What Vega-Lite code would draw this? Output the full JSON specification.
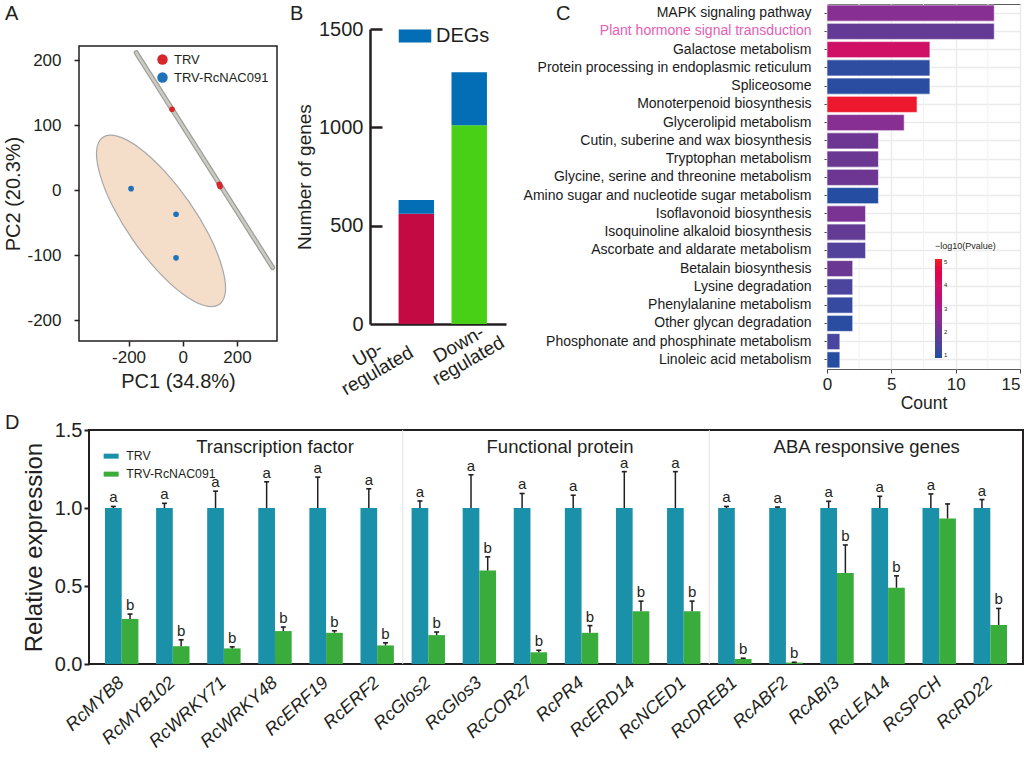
{
  "$schema": "https://vega.github.io/schema/vega-lite/v6.json",
  "background": "white",
  "padding": {"left": 3, "top": 3, "right": 0, "bottom": 0},
  "config": {
    "font": "Liberation Sans",
    "view": {"stroke": null},
    "axis": {"labelFont": "Liberation Sans", "titleFont": "Liberation Sans", "labelColor": "#231f20", "titleColor": "#231f20", "titleFontWeight": "normal", "grid": false, "domainColor": "#231f20", "tickColor": "#231f20"},
    "legend": {"labelFont": "Liberation Sans", "titleFont": "Liberation Sans", "labelColor": "#231f20", "titleColor": "#231f20"},
    "title": {"font": "Liberation Sans", "fontWeight": "normal", "fontSize": 20, "color": "#231f20", "anchor": "start", "frame": "group"},
    "text": {"font": "Liberation Sans"}
  },
  "datasets": {
    "pca": [
      {"pc1": -39.5, "pc2": 124.6, "group": "TRV"},
      {"pc1": 135, "pc2": 9.2, "group": "TRV"},
      {"pc1": 138, "pc2": 5.8, "group": "TRV"},
      {"pc1": -190.8, "pc2": 2.5, "group": "TRV-RcNAC091"},
      {"pc1": -24.7, "pc2": -36.9, "group": "TRV-RcNAC091"},
      {"pc1": -24.7, "pc2": -104, "group": "TRV-RcNAC091"}
    ],
    "ellipse": [
      {"i": 0, "pc1": 134.7, "pc2": -175.8},
      {"i": 1, "pc1": 157.9, "pc2": -154.6},
      {"i": 2, "pc1": 144.3, "pc2": -117.1},
      {"i": 3, "pc1": 97.4, "pc2": -68.9},
      {"i": 4, "pc1": 22.9, "pc2": -17.4},
      {"i": 5, "pc1": -67.2, "pc2": 29.5},
      {"i": 6, "pc1": -159.0, "pc2": 64.8},
      {"i": 7, "pc1": -239.1, "pc2": 82.9},
      {"i": 8, "pc1": -294.8, "pc2": 81.4},
      {"i": 9, "pc1": -318.1, "pc2": 60.2},
      {"i": 10, "pc1": -304.4, "pc2": 22.6},
      {"i": 11, "pc1": -257.6, "pc2": -25.5},
      {"i": 12, "pc1": -183.0, "pc2": -77.1},
      {"i": 13, "pc1": -93.0, "pc2": -124.0},
      {"i": 14, "pc1": -1.1, "pc2": -159.2},
      {"i": 15, "pc1": 79.0, "pc2": -177.4}
    ],
    "trvline": [
      {"i": 0, "pc1": -172, "pc2": 211.7},
      {"i": 1, "pc1": 332, "pc2": -119}
    ],
    "degs": [
      {"cat": "Up- regulated", "seg": "Up-regulated", "count": 560, "ord": 1},
      {"cat": "Up- regulated", "seg": "DEGs", "count": 70, "ord": 2},
      {"cat": "Down- regulated", "seg": "Down-regulated", "count": 1010, "ord": 1},
      {"cat": "Down- regulated", "seg": "DEGs", "count": 270, "ord": 2}
    ],
    "kegg": [
      {"term": "MAPK signaling pathway", "count": 13, "p": 2.45},
      {"term": "Plant hormone signal transduction", "count": 13, "p": 1.85},
      {"term": "Galactose metabolism", "count": 8, "p": 3.9},
      {"term": "Protein processing in endoplasmic reticulum", "count": 8, "p": 1.0},
      {"term": "Spliceosome", "count": 8, "p": 0.95},
      {"term": "Monoterpenoid biosynthesis", "count": 7, "p": 5.0},
      {"term": "Glycerolipid metabolism", "count": 6, "p": 2.45},
      {"term": "Cutin, suberine and wax biosynthesis", "count": 4, "p": 2.05},
      {"term": "Tryptophan metabolism", "count": 4, "p": 2.0},
      {"term": "Glycine, serine and threonine metabolism", "count": 4, "p": 2.05},
      {"term": "Amino sugar and nucleotide sugar metabolism", "count": 4, "p": 0.9},
      {"term": "Isoflavonoid biosynthesis", "count": 3, "p": 2.25},
      {"term": "Isoquinoline alkaloid biosynthesis", "count": 3, "p": 1.85},
      {"term": "Ascorbate and aldarate metabolism", "count": 3, "p": 1.55},
      {"term": "Betalain biosynthesis", "count": 2, "p": 2.0},
      {"term": "Lysine degradation", "count": 2, "p": 1.4},
      {"term": "Phenylalanine metabolism", "count": 2, "p": 1.1},
      {"term": "Other glycan degradation", "count": 2, "p": 0.95},
      {"term": "Phosphonate and phosphinate metabolism", "count": 1, "p": 1.35},
      {"term": "Linoleic acid metabolism", "count": 1, "p": 0.9}
    ],
    "minor": [{"count": 2.5}, {"count": 7.5}, {"count": 12.5}],
    "expr": [
      {"gene": "RcMYB8", "group": "TRV", "value": 1, "upper": 1.01, "letter": "a"},
      {"gene": "RcMYB8", "group": "TRV-RcNAC091", "value": 0.289, "upper": 0.32, "letter": "b"},
      {"gene": "RcMYB102", "group": "TRV", "value": 1, "upper": 1.03, "letter": "a"},
      {"gene": "RcMYB102", "group": "TRV-RcNAC091", "value": 0.114, "upper": 0.155, "letter": "b"},
      {"gene": "RcWRKY71", "group": "TRV", "value": 1, "upper": 1.108, "letter": "a"},
      {"gene": "RcWRKY71", "group": "TRV-RcNAC091", "value": 0.1, "upper": 0.11, "letter": "b"},
      {"gene": "RcWRKY48", "group": "TRV", "value": 1, "upper": 1.168, "letter": "a"},
      {"gene": "RcWRKY48", "group": "TRV-RcNAC091", "value": 0.211, "upper": 0.237, "letter": "b"},
      {"gene": "RcERF19", "group": "TRV", "value": 1, "upper": 1.198, "letter": "a"},
      {"gene": "RcERF19", "group": "TRV-RcNAC091", "value": 0.2, "upper": 0.213, "letter": "b"},
      {"gene": "RcERF2", "group": "TRV", "value": 1, "upper": 1.123, "letter": "a"},
      {"gene": "RcERF2", "group": "TRV-RcNAC091", "value": 0.119, "upper": 0.136, "letter": "b"},
      {"gene": "RcGlos2", "group": "TRV", "value": 1, "upper": 1.045, "letter": "a"},
      {"gene": "RcGlos2", "group": "TRV-RcNAC091", "value": 0.185, "upper": 0.205, "letter": "b"},
      {"gene": "RcGlos3", "group": "TRV", "value": 1, "upper": 1.213, "letter": "a"},
      {"gene": "RcGlos3", "group": "TRV-RcNAC091", "value": 0.599, "upper": 0.687, "letter": "b"},
      {"gene": "RcCOR27", "group": "TRV", "value": 1, "upper": 1.093, "letter": "a"},
      {"gene": "RcCOR27", "group": "TRV-RcNAC091", "value": 0.075, "upper": 0.088, "letter": "b"},
      {"gene": "RcPR4", "group": "TRV", "value": 1, "upper": 1.082, "letter": "a"},
      {"gene": "RcPR4", "group": "TRV-RcNAC091", "value": 0.2, "upper": 0.246, "letter": "b"},
      {"gene": "RcERD14", "group": "TRV", "value": 1, "upper": 1.233, "letter": "a"},
      {"gene": "RcERD14", "group": "TRV-RcNAC091", "value": 0.338, "upper": 0.403, "letter": "b"},
      {"gene": "RcNCED1", "group": "TRV", "value": 1, "upper": 1.233, "letter": "a"},
      {"gene": "RcNCED1", "group": "TRV-RcNAC091", "value": 0.338, "upper": 0.403, "letter": "b"},
      {"gene": "RcDREB1", "group": "TRV", "value": 1, "upper": 1.01, "letter": "a"},
      {"gene": "RcDREB1", "group": "TRV-RcNAC091", "value": 0.032, "upper": 0.037, "letter": "b"},
      {"gene": "RcABF2", "group": "TRV", "value": 1, "upper": 1.006, "letter": "a"},
      {"gene": "RcABF2", "group": "TRV-RcNAC091", "value": 0.009, "upper": 0.011, "letter": "b"},
      {"gene": "RcABI3", "group": "TRV", "value": 1, "upper": 1.043, "letter": "a"},
      {"gene": "RcABI3", "group": "TRV-RcNAC091", "value": 0.584, "upper": 0.763, "letter": "b"},
      {"gene": "RcLEA14", "group": "TRV", "value": 1, "upper": 1.075, "letter": "a"},
      {"gene": "RcLEA14", "group": "TRV-RcNAC091", "value": 0.489, "upper": 0.565, "letter": "b"},
      {"gene": "RcSPCH", "group": "TRV", "value": 1, "upper": 1.09, "letter": "a"},
      {"gene": "RcSPCH", "group": "TRV-RcNAC091", "value": 0.933, "upper": 1.026, "letter": ""},
      {"gene": "RcRD22", "group": "TRV", "value": 1, "upper": 1.054, "letter": "a"},
      {"gene": "RcRD22", "group": "TRV-RcNAC091", "value": 0.25, "upper": 0.356, "letter": "b"}
    ],
    "sep": [{"gene": "RcGlos2"}, {"gene": "RcDREB1"}],
    "groups1": [{"gene": "RcWRKY48", "value": 1.39, "label": "Transcription factor"}],
    "groups2": [
      {"gene": "RcPR4", "value": 1.39, "label": "Functional protein"},
      {"gene": "RcLEA14", "value": 1.39, "label": "ABA responsive genes"}
    ]
  },
  "concat": [
    {
      "concat": [
        {
          "width": 188,
          "height": 337,
          "title": {"text": "A", "dx": -84, "dy": 20, "offset": 0},
          "layer": [
            {
              "data": {"name": "ellipse"},
              "mark": {"type": "line", "interpolate": "cardinal-closed", "filled": true, "fill": "#f4ddc9", "stroke": "#a8a8a8", "strokeWidth": 1.2},
              "encoding": {
                "x": {"field": "pc1", "type": "quantitative", "scale": {"domain": [-383, 348], "range": [-10, 188], "nice": false, "zero": false},
                  "axis": {"values": [-200, 0, 200], "title": "PC1 (34.8%)", "titleFontSize": 20, "labelFontSize": 17, "domain": false, "tickSize": 5, "tickWidth": 1.5, "labelPadding": 3, "titlePadding": 6, "labelExpr": "replace(datum.label, '\u2212', '-')"}},
                "y": {"field": "pc2", "type": "quantitative", "scale": {"domain": [-232, 222], "range": [337, 42], "nice": false, "zero": false},
                  "axis": {"values": [-200, -100, 0, 100, 200], "offset": 10, "title": "PC2 (20.3%)", "titleFontSize": 20, "labelFontSize": 17, "domain": false, "tickSize": 5, "tickWidth": 1.5, "labelPadding": 13, "titlePadding": 3, "labelExpr": "replace(datum.label, '\u2212', '-')"}},
                "order": {"field": "i"}
              }
            },
            {
              "data": {"name": "trvline"},
              "mark": {"type": "line", "stroke": "#9d9d98", "strokeWidth": 5, "strokeCap": "round"},
              "encoding": {"x": {"field": "pc1", "type": "quantitative"}, "y": {"field": "pc2", "type": "quantitative"}, "order": {"field": "i"}}
            },
            {
              "data": {"name": "trvline"},
              "mark": {"type": "line", "stroke": "#cbcbc4", "strokeWidth": 2.6, "strokeCap": "round"},
              "encoding": {"x": {"field": "pc1", "type": "quantitative"}, "y": {"field": "pc2", "type": "quantitative"}, "order": {"field": "i"}}
            },
            {
              "data": {"name": "pca"},
              "mark": {"type": "point", "filled": true, "size": 32, "opacity": 1},
              "encoding": {
                "x": {"field": "pc1", "type": "quantitative"},
                "y": {"field": "pc2", "type": "quantitative"},
                "color": {"field": "group", "type": "nominal", "scale": {"domain": ["TRV", "TRV-RcNAC091"], "range": ["#d7262b", "#1f72b8"]},
                  "legend": {"title": null, "orient": "none", "legendX": 67, "legendY": 49, "labelFontSize": 13, "symbolSize": 110, "symbolType": "circle", "rowPadding": 4, "labelOffset": 5}}
              }
            },
            {
              "data": {"values": [{}]},
              "mark": {"type": "rect", "fill": null, "filled": false, "stroke": "#231f20", "strokeWidth": 1.5},
              "encoding": {
                "x": {"datum": -383, "type": "quantitative"},
                "x2": {"datum": 348},
                "y": {"datum": -232, "type": "quantitative"},
                "y2": {"datum": 222}
              }
            }
          ]
        },
        {
          "concat": [
            {
              "width": 136,
              "height": 320,
              "title": {"text": "B", "dx": -80, "dy": 20, "offset": 0},
              "data": {"name": "degs"},
              "layer": [
                {
                  "mark": {"type": "bar"},
                  "encoding": {
                    "x": {"field": "cat", "type": "nominal", "sort": null, "scale": {"paddingInner": 0.33, "paddingOuter": 0.45, "align": 0.6},
                      "axis": {"title": null, "labelExpr": "split(datum.label, ' ')", "labelAngle": -30, "labelAlign": "center", "labelBaseline": "top", "labelFontSize": 19, "labelLineHeight": 19, "ticks": false, "domainWidth": 2.5,
                        "labelPadding": {"condition": {"test": "datum.value == 'Up- regulated'", "value": 22}, "value": 12},
                        "labelOffset": {"condition": {"test": "datum.value == 'Up- regulated'", "value": -53}, "value": -15}}},
                    "y": {"field": "count", "type": "quantitative", "stack": "zero", "scale": {"domain": [0, 1500], "range": [320, 25], "nice": false},
                      "axis": {"values": [0, 500, 1000, 1500], "format": "d", "title": "Number of genes", "titleFontSize": 19, "titlePadding": 4, "labelFontSize": 20, "domainWidth": 2.5, "ticks": false, "labelPadding": 7}},
                    "color": {"field": "seg", "type": "nominal", "scale": {"domain": ["Up-regulated", "Down-regulated", "DEGs"], "range": ["#c40a42", "#48d016", "#036db6"]},
                      "legend": {"values": ["DEGs"], "title": null, "orient": "none", "legendX": 35, "legendY": 22, "labelFontSize": 20, "symbolType": "M-2.5,-1H2.5V1H-2.5Z", "symbolSize": 169, "labelOffset": 11}},
                    "order": {"field": "ord"}
                  }
                },
                {
                  "mark": {"type": "point", "opacity": 0},
                  "encoding": {
                    "x": {"field": "cat", "type": "nominal", "sort": null},
                    "y": {"field": "count", "type": "quantitative", "stack": "zero",
                      "axis": {"orient": "right", "offset": -136, "values": [500, 1000, 1500], "labels": false, "domain": false, "title": null, "ticks": true, "tickSize": 12, "tickWidth": 2.5, "tickColor": "#231f20"}}
                  }
                }
              ],
              "resolve": {"axis": {"y": "independent"}}
            },
            {
              "width": 193,
              "height": 365,
              "title": {"text": "C", "dx": -271, "dy": 20, "offset": 0},
              "view": {"stroke": "#5a5a5a", "strokeWidth": 1},
              "layer": [
                {
                  "data": {"name": "minor"},
                  "mark": {"type": "rule", "stroke": "#f1f1f1", "strokeWidth": 1},
                  "encoding": {"x": {"field": "count", "type": "quantitative"}}
                },
                {
                  "data": {"name": "kegg"},
                  "mark": {"type": "bar", "stroke": "white", "strokeWidth": 0.6},
                  "encoding": {
                    "y": {"field": "term", "type": "nominal", "sort": null, "scale": {"paddingInner": 0.12, "paddingOuter": 0.06},
                      "axis": {"title": null, "labelFontSize": 14, "labelLimit": 400, "tickSize": 3, "tickColor": "#444", "labelPadding": 13, "domain": false, "grid": true, "gridColor": "#ebebeb", "gridWidth": 1.5, "bandPosition": 0.5,
                        "labelColor": {"condition": {"test": "datum.value == 'Plant hormone signal transduction'", "value": "#e65db5"}, "value": "#1a1a1a"}}},
                    "x": {"field": "count", "type": "quantitative", "scale": {"domain": [0, 15], "nice": false},
                      "axis": {"values": [0, 5, 10, 15], "title": "Count", "titleFontSize": 17.5, "titlePadding": 2, "labelFontSize": 17, "tickSize": 4, "tickColor": "#444", "labelPadding": 3, "domain": false, "grid": true, "gridColor": "#ebebeb", "gridWidth": 1.5,
                        "labelAlign": {"condition": {"test": "datum.value == 15", "value": "right"}, "value": "center"}}},
                    "color": {"field": "p", "type": "quantitative", "scale": {"domain": [0.85, 2, 3, 4, 5.15], "range": ["#1f4ea1", "#6a3792", "#a81d8a", "#d31463", "#ee2122"]},
                      "legend": {"title": "\u2212log10(Pvalue)", "titleFontSize": 9, "titleFontWeight": "normal", "titlePadding": 8, "labelFontSize": 6, "gradientLength": 99, "gradientThickness": 7, "values": [1, 2, 3, 4, 5], "orient": "none", "legendX": 108, "legendY": 238, "direction": "vertical"}}
                  }
                }
              ]
            }
          ],
          "columns": 2,
          "spacing": 14,
          "resolve": {"scale": {"color": "independent"}, "legend": {"color": "independent"}}
        }
      ],
      "columns": 2,
      "spacing": 3,
      "resolve": {"scale": {"color": "independent"}, "legend": {"color": "independent"}}
    },
    {
      "width": 934,
      "height": 234,
      "title": {"text": "D", "dx": -84, "offset": -13},
      "view": {"stroke": "#231f20", "strokeWidth": 2},
      "layer": [
        {
          "data": {"name": "sep"},
          "mark": {"type": "rule", "stroke": "#e2e2e2", "strokeWidth": 1},
          "encoding": {"x": {"field": "gene", "type": "nominal", "bandPosition": 0}}
        },
        {
          "data": {"name": "groups1"},
          "mark": {"type": "text", "fontSize": 18.5, "align": "center", "baseline": "middle", "color": "#231f20"},
          "encoding": {"x": {"field": "gene", "type": "nominal", "bandPosition": 0.5}, "y": {"field": "value", "type": "quantitative"}, "text": {"field": "label"}}
        },
        {
          "data": {"name": "groups2"},
          "mark": {"type": "text", "fontSize": 18.5, "align": "center", "baseline": "middle", "color": "#231f20"},
          "encoding": {"x": {"field": "gene", "type": "nominal", "bandPosition": 0.08}, "y": {"field": "value", "type": "quantitative"}, "text": {"field": "label"}}
        },
        {
          "data": {"name": "expr"},
          "mark": {"type": "bar"},
          "encoding": {
            "x": {"field": "gene", "type": "nominal",
              "scale": {"domain": ["RcMYB8", "RcMYB102", "RcWRKY71", "RcWRKY48", "RcERF19", "RcERF2", "RcGlos2", "RcGlos3", "RcCOR27", "RcPR4", "RcERD14", "RcNCED1", "RcDREB1", "RcABF2", "RcABI3", "RcLEA14", "RcSPCH", "RcRD22"], "paddingInner": 0, "paddingOuter": 0.14},
              "axis": {"title": null, "labelAngle": -42, "labelFontSize": 18, "labelFontStyle": "italic", "ticks": false, "domain": false, "labelPadding": 16, "labelAlign": "right", "labelBaseline": "middle"}},
            "xOffset": {"field": "group", "type": "nominal", "scale": {"domain": ["TRV", "TRV-RcNAC091"], "paddingInner": 0, "paddingOuter": 0.53}},
            "y": {"field": "value", "type": "quantitative", "scale": {"domain": [0, 1.5], "nice": false},
              "axis": {"values": [0, 0.5, 1, 1.5], "format": ".1f", "labelFontSize": 20, "title": "Relative expression", "titleFontSize": 24, "titlePadding": 8, "domain": false, "tickSize": 5, "tickWidth": 2, "labelPadding": 2}},
            "color": {"field": "group", "type": "nominal", "scale": {"domain": ["TRV", "TRV-RcNAC091"], "range": ["#1a91a9", "#39ac3b"]},
              "legend": {"title": null, "orient": "none", "legendX": 16, "legendY": 20, "labelFontSize": 12.3, "symbolType": "M-1.5,-0.5H1.5V0.5H-1.5Z", "symbolSize": 100, "labelOffset": 9, "rowPadding": 5}}
          }
        },
        {
          "data": {"name": "expr"},
          "mark": {"type": "rule", "color": "#231f20", "strokeWidth": 1.5},
          "encoding": {
            "x": {"field": "gene", "type": "nominal"},
            "xOffset": {"field": "group", "type": "nominal"},
            "y": {"field": "value", "type": "quantitative"},
            "y2": {"field": "upper"}
          }
        },
        {
          "data": {"name": "expr"},
          "mark": {"type": "tick", "orient": "horizontal", "size": 5, "thickness": 1.6, "color": "#231f20", "opacity": 1},
          "encoding": {
            "x": {"field": "gene", "type": "nominal"},
            "xOffset": {"field": "group", "type": "nominal"},
            "y": {"field": "upper", "type": "quantitative"}
          }
        },
        {
          "data": {"name": "expr"},
          "mark": {"type": "text", "fontSize": 15, "align": "center", "baseline": "alphabetic", "dy": -4, "color": "#231f20"},
          "encoding": {
            "x": {"field": "gene", "type": "nominal"},
            "xOffset": {"field": "group", "type": "nominal"},
            "y": {"field": "upper", "type": "quantitative"},
            "text": {"field": "letter"}
          }
        }
      ]
    }
  ],
  "columns": 1,
  "spacing": 0,
  "resolve": {"scale": {"color": "independent"}, "legend": {"color": "independent"}}
}
